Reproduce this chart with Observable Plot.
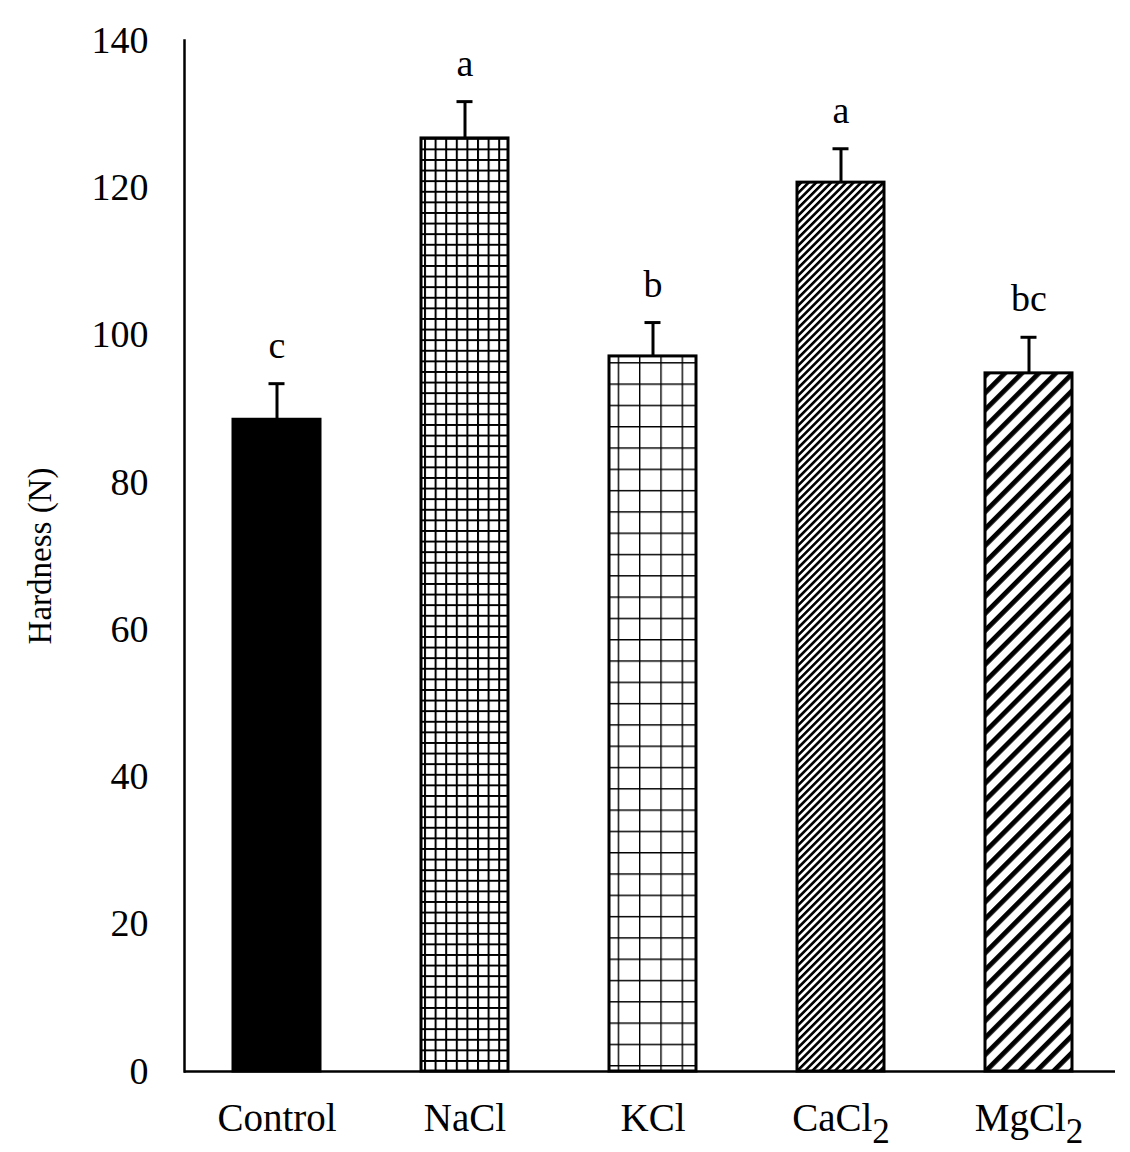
<!DOCTYPE html>
<html><head><meta charset="utf-8">
<script src="https://cdn.jsdelivr.net/npm/d3@7"></script>
<script src="https://cdn.jsdelivr.net/npm/@observablehq/plot@0.6"></script>
<style>body{margin:0;background:#fff}</style>
</head><body><div id="chart"></div>
<script>
const categories = ["Control", "NaCl", "KCl", "CaCl2", "MgCl2"];
const hardness = [88.5, 126.7, 97.1, 120.7, 94.8];
const errors = [4.9, 5.0, 4.6, 4.6, 4.9];
const letters = ["c", "a", "b", "a", "bc"];
const fills = ["#000", "url(#pNaCl)", "url(#pKCl)", "url(#pCaCl)", "url(#pMgCl)"];
const yTicks = [0, 20, 40, 60, 80, 100, 120, 140];
const yLabel = ["Hardness (N)"];

const data = categories.map((c, i) => ({cat: c, v: hardness[i], e: errors[i], top: hardness[i] + errors[i], letter: letters[i], fill: fills[i]}));
const font = "'Liberation Serif', 'Times New Roman', serif";

const chart = Plot.plot({
  width: 1130, height: 1152,
  marginLeft: 184, marginTop: 40, marginBottom: 81, marginRight: 9,
  style: {fontFamily: font, background: "#fff", color: "#000"},
  x: {domain: categories, paddingInner: 0.535, paddingOuter: 0.257, label: null},
  y: {domain: [0, 140], label: null},
  marks: [
    Plot.ruleX(data, {x: "cat", y1: "v", y2: "top", stroke: "#000", strokeWidth: 3}),
    Plot.tickY(data, {x: "cat", y: "top", stroke: "#000", strokeWidth: 3, insetLeft: 35.5, insetRight: 35.5}),
    Plot.barY(data, {x: "cat", y: "v", fill: d => d.fill, stroke: "#000", strokeWidth: 3}),
    Plot.text(data, {x: "cat", y: "top", text: "letter", lineAnchor: "bottom", dy: -26, fontSize: 38, fill: "#000"}),
    Plot.axisY({ticks: yTicks, tickSize: 0, tickPadding: 36, fontSize: 38, label: null}),
    Plot.axisX({tickSize: 0, tickPadding: 32, fontSize: 39, label: null}),
    Plot.frame({anchor: "left", stroke: "#000", strokeWidth: 2.5}),
    Plot.ruleY([0], {stroke: "#000", strokeWidth: 2.5, insetRight: 6}),
    Plot.text(yLabel, {text: d => d, frameAnchor: "left", textAnchor: "middle", rotate: -90, dx: -144, fontSize: 33, fill: "#000"})
  ]
});

const svg = d3.select(chart);
const defs = svg.insert("defs", ":first-child");
function grid(id, size, sw) {
  const p = defs.append("pattern").attr("id", id).attr("patternUnits", "userSpaceOnUse").attr("width", size).attr("height", size);
  p.append("rect").attr("width", size).attr("height", size).attr("fill", "#fff");
  p.append("path").attr("d", `M0,0H${size}M0,0V${size}`).attr("stroke", "#000").attr("stroke-width", sw * 2);
}
function stripes(id, period, sw) {
  const p = defs.append("pattern").attr("id", id).attr("patternUnits", "userSpaceOnUse").attr("width", period).attr("height", period).attr("patternTransform", "rotate(45)");
  p.append("rect").attr("width", period).attr("height", period).attr("fill", "#fff");
  p.append("rect").attr("width", sw).attr("height", period).attr("fill", "#000");
}
grid("pNaCl", 10.6, 2);
grid("pKCl", 21.3, 1.4);
stripes("pCaCl", 5.3, 2.6);
stripes("pMgCl", 12, 4.8);

// subscripts in x tick labels
svg.selectAll("g[aria-label='x-axis tick label'] text").each(function() {
  const t = d3.select(this);
  const s = t.text();
  const m = s.match(/^(.*?)(\d+)$/);
  if (m) {
    t.text(null);
    t.append("tspan").text(m[1]);
    t.append("tspan").attr("dy", "0.35em").attr("font-size", "0.9em").text(m[2]);
  }
});

document.getElementById("chart").append(chart);
</script>
</body></html>
